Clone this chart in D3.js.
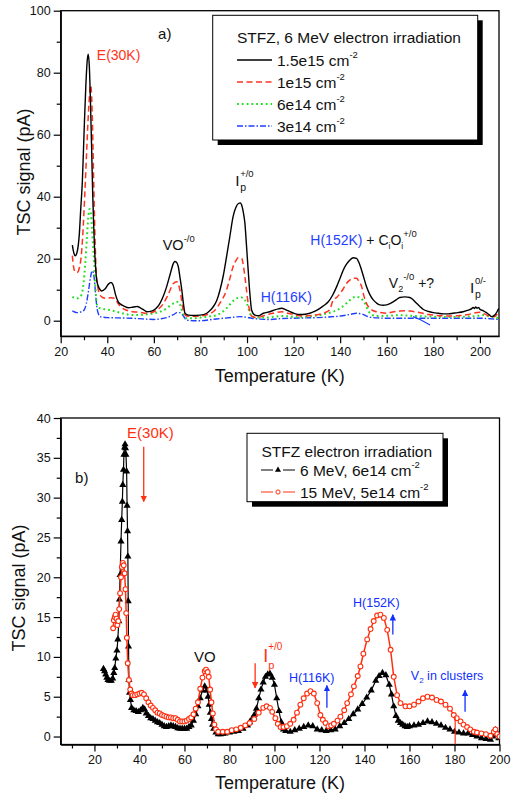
<!DOCTYPE html>
<html><head><meta charset="utf-8">
<script src="https://cdn.jsdelivr.net/npm/d3@7"></script>
<style>
body{margin:0;background:#fff}
svg text{font-family:"Liberation Sans",Arial,Helvetica,sans-serif}
</style></head>
<body><svg id="c" width="517" height="799"></svg>
<script>
// ---------------- DATA: panel a) ----------------
const xTicksTop = [20,40,60,80,100,120,140,160,180,200];
const yTicksTop = [0,20,40,60,80,100];
const legendTopTitle = "STFZ, 6 MeV electron irradiation";
const seriesTopNames = ["1.5e15","1e15","6e14","3e14"];

const black15e15 = [[25,24.4],[25.6,22],[26.2,20.9],[27,22],[28,28],[28.6,36],[29.3,45],[30,60],[30.8,76],[31.4,84],[31.8,86],[32.3,82],[32.8,70],[33.3,55],[33.7,42],[34.1,32],[34.5,24],[35,17],[35.5,13],[36.5,10.5],[37.6,9.6],[39,10.2],[40.5,11.8],[41.6,12.3],[42.5,11.5],[43.5,8.5],[44.7,6.1],[46,5.2],[47.5,4.6],[49,4.2],[50.5,4.3],[52,4.5],[53,4.6],[54,4.2],[55.5,3.6],[57,2.9],[58.5,3.0],[60,3.4],[61.5,4.4],[62.6,5.6],[64,7.8],[65.5,11],[67,15],[68.4,18.5],[69,19.1],[69.8,18.8],[70.5,17.4],[71.3,13.5],[72,9.9],[72.7,5.5],[73.4,2.4],[74.8,1.8],[77,1.7],[79.8,1.8],[82.7,2.4],[84,3.2],[85.5,4.5],[87,6.5],[88.4,9.9],[89.8,14.5],[91.2,20.6],[92.6,27],[94,33.5],[95.2,36.5],[96.3,37.8],[97.2,38],[97.7,37.3],[98.4,35],[99.1,31.4],[99.8,24],[100.5,16.3],[101.2,9],[102,3.4],[103.4,1.8],[105,1.6],[107,2.4],[109.8,2.9],[112,3.5],[113.4,3.8],[114.9,4.0],[116.5,3.6],[118.4,2.9],[120.5,2.3],[122.7,2.0],[125,2.1],[127,2.4],[129,3.0],[131.3,4.0],[133,4.9],[134.9,6.1],[136.8,8.3],[138.5,11],[140,13.8],[141.3,16.3],[142.8,18.3],[144.2,19.6],[145.6,20.3],[147,20.1],[148.1,18.7],[149.2,16.3],[150.3,13.5],[151.3,11],[152.7,8.5],[154.2,6.7],[155.6,5.7],[157,5.1],[158.5,5.0],[159.9,5.1],[161.4,5.5],[162.8,6.1],[164.2,6.8],[165.6,7.5],[167.8,7.7],[169.9,7.5],[171.4,6.7],[172.8,5.6],[174.2,4.6],[175.6,3.7],[177.8,3.0],[180,2.6],[182,2.4],[184.2,2.2],[186.5,2.2],[188.5,2.4],[190.5,2.6],[192.8,2.9],[195,3.4],[196.5,3.9],[197.1,4.3],[197.6,3.9],[198.2,4.4],[198.8,4.0],[199.4,4.3],[200,3.7],[201.5,3.2],[202.8,2.6],[204,1.9],[205,1.3],[205.8,1.5],[206.4,1.8],[207.3,2.8],[208.1,4]];

const red1e15 = [[25,21],[25.5,17.5],[26,16],[27,15.5],[28,17],[28.7,20],[29.5,28],[30.3,40],[31,52],[31.7,64],[32.3,72],[32.9,76],[33.4,70],[33.9,55],[34.3,40],[34.8,25],[35.3,15],[36,10.5],[36.9,8.3],[38,7.5],[39.7,7.2],[41.5,7.4],[43.3,7.2],[44.4,5.8],[45.5,4.7],[47,3.8],[49,3.2],[51,2.9],[54,2.7],[57,2.4],[60,2.9],[62,3.8],[64,5.4],[66,8.2],[68.4,12],[69.8,12.6],[71.2,9.9],[72.6,3.4],[74,1.5],[77,1.4],[80,1.5],[83,2.0],[86,3.2],[88.5,5.8],[91.2,9.9],[92.6,13.5],[94,17.4],[95.2,19.3],[96.3,20.4],[97.7,20.1],[98.5,17.5],[99.1,14.2],[99.8,9.8],[100.5,5.6],[101.3,3.0],[102,1.5],[104,1.0],[106,1.3],[108,1.8],[111.3,2.4],[114.9,2.9],[118,2.3],[121,1.8],[125,1.5],[129,1.8],[133,2.5],[135.5,3.5],[137,6.7],[138.5,7.5],[140,8.8],[141.5,10.5],[142.7,12],[144,13],[145.6,13.7],[147,13.7],[148,12.8],[149.2,11],[150.2,8],[151.3,5.6],[152.7,4.0],[154.2,3.2],[157,2.7],[160,2.4],[162.5,2.8],[165.6,3.1],[168,3.2],[170,3.1],[172.8,2.8],[175.6,2.4],[178,2.0],[180,1.8],[184,1.6],[188.5,1.5],[192,1.7],[195,2.0],[197,2.4],[200,2.7],[202,2.2],[204,1.5],[206.4,1.3],[207.3,2.0],[208,2.9]];

const green6e14 = [[25,7.7],[26,7.4],[27,7.2],[28,7.5],[29,8.5],[29.8,12],[30.5,18],[31.2,26],[31.8,33],[32.4,36],[32.9,35],[33.4,30],[33.9,24],[34.4,18.5],[34.9,11],[35.4,6],[35.9,4.5],[36.9,4.0],[40,3.6],[44,2.9],[47,2.3],[51,1.8],[55,1.9],[60,2.4],[63,3.0],[65.5,4.0],[67,4.9],[69,5.8],[70.5,6.1],[71.3,5.0],[72,3.4],[73,1.8],[74,0.8],[77,0.8],[80,1.0],[84,1.4],[87,1.8],[89,2.6],[91.2,4.0],[93,5.5],[95.5,7.2],[97.7,7.5],[99,6.8],[99.9,5.6],[101,3.0],[102,1.3],[105,1.0],[108.4,1.0],[112,1.3],[115.6,1.5],[119,1.3],[122.7,1.1],[127,1.4],[131.3,1.8],[134,2.3],[137,2.9],[140,4.0],[142.7,5.6],[144.5,6.8],[145.6,7.5],[147,7.7],[148.5,7.5],[149.6,6.7],[150.6,5.6],[151.7,3.8],[152.8,2.4],[155.6,1.5],[160,1.6],[165.6,1.8],[170,1.6],[175,1.4],[180,1.3],[187,1.2],[194.3,1.3],[198,1.5],[201.4,1.8],[203.5,1.5],[205.6,1.3],[208,0.8]];

const blue3e14 = [[25,3.2],[26,2.8],[27,2.6],[28.5,2.8],[30,3.4],[31,5.5],[32,9.9],[32.8,14],[33.5,16.1],[34,15.5],[34.5,13],[35,8.5],[35.5,4.5],[36.2,2.2],[37,1.3],[40,1.0],[45,0.9],[50,0.8],[55,0.6],[60,0.4],[63,0.6],[66,1.1],[68.5,2.0],[70,2.6],[71,2.6],[72,2.2],[73,1.2],[74,0.2],[77,0.0],[80,0.0],[85,0.4],[90,0.8],[94,1.1],[97,1.3],[100,1.1],[102,0.8],[106,0.5],[110,0.4],[115,0.7],[120,0.8],[125,0.9],[130,1.0],[135,1.2],[140,1.5],[144,2.0],[147,2.4],[149.5,2.1],[152,1.3],[156,0.9],[160,0.8],[165,0.8],[170,0.8],[180,0.8],[190,0.8],[200,0.8],[205,0.6],[208,0.4]];
const blueTail = [[171.3,1.3],[174.5,0.3],[178.6,-1.4]];

// ---------------- DATA: panel b) ----------------
const xTicksBot = [20,40,60,80,100,120,140,160,180,200];
const yTicksBot = [0,5,10,15,20,25,30,35,40];
const legendBotTitle = "STFZ electron irradiation";
const seriesBotNames = ["6 MeV, 6e14 cm","15 MeV, 5e14 cm"];

const black6MeV = [[24,8.5],[24.5,8.2],[25,7.8],[25.5,7.4],[26,7.1],[26.7,7.0],[27.5,7.0],[28.1,7.3],[28.6,8.0],[29,8.6],[29.5,9.8],[30,10.8],[30.4,12.2],[30.8,14.5],[31.1,17.2],[31.4,20.3],[31.8,24.5],[32.1,27.2],[32.4,29.5],[32.6,31.6],[32.9,33.5],[33.1,35.4],[33.4,36.3],[33.6,36.7],[33.8,36.2],[34.0,35.4],[34.3,33.3],[34.5,29],[34.7,25.8],[34.85,22.6],[35.0,17],[35.15,11.3],[35.3,7.1],[35.6,5.5],[36.0,4.6],[36.5,3.6],[37.5,3.3],[38.5,3.2],[39.5,3.1],[40.5,3.3],[41.5,3.6],[42.3,3.4],[43,2.9],[44,2.6],[45,2.3],[46,2.2],[47,2.0],[48,1.8],[49,1.7],[50,1.5],[51,1.3],[52,1.2],[53,1.3],[54,1.4],[55,1.3],[56,1.2],[57,1.05],[58,1.0],[59,1.0],[60,1.0],[61,1.0],[62,1.2],[63,1.4],[64,2.0],[65,2.8],[66,3.8],[67,4.8],[68,5.8],[69,6.3],[70,5.8],[70.5,5.0],[71,4.0],[71.5,3.0],[72,2.2],[72.5,1.5],[73,1.0],[74,0.5],[75,0.3],[76,0.3],[77,0.35],[78,0.4],[80,0.5],[82,0.6],[84,0.7],[86,1.0],[88,1.4],[89,1.8],[90,2.2],[91,2.7],[92,3.5],[93,4.8],[94,5.9],[95,6.8],[96,7.5],[97,7.8],[98,7.9],[99,7.4],[100,6.5],[101,4.8],[102,3.2],[103,1.8],[104,0.9],[105,0.7],[107,0.6],[109,0.8],[111,1.0],[113,1.2],[115,1.4],[117,1.3],[119,0.9],[121,0.8],[123,0.7],[125,0.8],[127,0.9],[129,1.3],[131,1.7],[133,2.2],[135,2.8],[137,3.4],[139,4.1],[141,4.9],[143,5.8],[145,7.0],[146.5,7.6],[148,8.0],[149.5,7.7],[151,6.5],[152,5.3],[153,3.8],[154,2.6],[155,2.0],[156,1.7],[157,1.5],[158,1.3],[159,1.2],[160,1.3],[162,1.4],[164,1.5],[166,1.7],[168,1.9],[170,1.8],[172,1.6],[174,1.4],[176,1.1],[178,0.9],[180,0.6],[182,0.5],[184,0.4],[186,0.4],[188,0.2],[190,0.0],[192,-0.2],[194,-0.3],[196,-0.4],[197,0.0],[198.2,0.8],[199,0.2],[199.7,-0.2]];

const red15MeV = [[28.3,13.6],[28.6,14.6],[29,15.0],[29.4,15.3],[29.8,14.8],[30.2,14.0],[30.6,14.5],[31,16],[31.4,18],[31.8,20],[32.2,21.3],[32.6,21.8],[33,21.5],[33.4,20.5],[33.8,18.5],[34.1,15.5],[34.4,12.4],[34.8,9.2],[35.3,7.1],[35.9,5.9],[36.5,5.4],[37,5.2],[38,5.2],[39,5.3],[40,5.4],[41,5.5],[42,5.3],[43,4.8],[44,4.3],[45,3.9],[46,3.6],[47,3.3],[48,3.0],[49,2.9],[50,2.7],[51,2.6],[52,2.5],[53,2.4],[54,2.4],[55,2.3],[56,2.3],[57,2.1],[58,1.9],[59,1.9],[60,1.9],[61,2.0],[62,2.2],[63,2.4],[64,2.8],[65,3.5],[66,4.3],[67,6.0],[68,7.4],[69,8.2],[69.6,8.4],[70.3,8.1],[70.8,7.5],[71.4,5.9],[72,4.3],[72.6,2.9],[73.3,1.5],[74,0.9],[75,0.6],[77,0.6],[79,0.6],[81,0.8],[83,0.9],[85,1.1],[87,1.4],[89,1.7],[91,2.2],[93,3.0],[95,3.6],[96.5,3.8],[98,3.6],[99,3.1],[100.4,2.3],[101.5,1.6],[102.7,1.2],[104,1.2],[105.5,1.3],[107,1.6],[108.5,2.1],[110,3.0],[111.5,4.0],[113,4.8],[114.5,5.4],[116,5.7],[117.5,5.4],[119,4.2],[120.4,2.7],[121.5,2.1],[122.7,1.7],[124,1.3],[125.2,1.4],[126.4,1.6],[128,2.0],[129.3,2.5],[131,3.3],[132.3,4.2],[134,5.3],[135.3,6.3],[137,7.6],[138.2,8.8],[139.5,10.4],[141.2,12.2],[142.7,13.5],[144.1,14.5],[145.6,15.2],[147.1,15.3],[148.6,14.9],[150.1,13.4],[151.6,10.9],[153,7.5],[154.5,5.2],[156,4.2],[158.2,3.8],[160,3.8],[162,4.0],[164,4.4],[166,4.8],[168,5.0],[170,4.9],[172,4.6],[174,4.4],[176,4.0],[178,3.5],[179.7,2.7],[181,2.3],[182.7,1.9],[184,1.5],[185.6,1.2],[187,0.9],[188.6,0.6],[190,0.5],[192,0.4],[194,0.3],[196,0.1],[197.5,0.6],[198.2,0.9],[199,0.3],[200,0]];
const redDrop = [[180.3,2.5],[180.3,-1]];

// ---------------- DRAWING ----------------
const svg = d3.select("#c");
const FONT = "'Liberation Sans',Arial,Helvetica,sans-serif";

function panel(opt){
  const g = svg.append("g");
  const x = d3.scaleLinear(opt.xd, opt.xr);
  const y = d3.scaleLinear(opt.yd, opt.yr);
  const id = opt.id;
  g.append("clipPath").attr("id",id).append("rect")
    .attr("x",opt.xr[0]).attr("y",opt.yr[1]).attr("width",opt.xr[1]-opt.xr[0]).attr("height",opt.yr[0]-opt.yr[1]);
  g.append("rect").attr("x",opt.xr[0]).attr("y",opt.yr[1]).attr("width",opt.xr[1]-opt.xr[0]).attr("height",opt.yr[0]-opt.yr[1])
    .attr("fill","none").attr("stroke","#000").attr("stroke-width",1.3);
  g.append("g").attr("transform",`translate(0,${opt.yr[0]})`)
    .call(d3.axisBottom(x).tickValues(opt.xt).tickSize(7).tickSizeOuter(0).tickPadding(4));
  g.append("g").attr("transform",`translate(0,${opt.yr[0]})`)
    .call(d3.axisBottom(x).tickValues(opt.xm).tickSize(4).tickSizeOuter(0).tickFormat(""))
    .select(".domain").remove();
  g.append("g").attr("transform",`translate(${opt.xr[0]},0)`)
    .call(d3.axisLeft(y).tickValues(opt.yt).tickSize(7).tickSizeOuter(0).tickPadding(3));
  g.append("g").attr("transform",`translate(${opt.xr[0]},0)`)
    .call(d3.axisLeft(y).tickValues(opt.ym).tickSize(4).tickSizeOuter(0).tickFormat(""))
    .select(".domain").remove();
  g.selectAll(".tick line").attr("stroke-width",1.2);
  g.selectAll(".domain").attr("stroke-width",1.3);
  g.selectAll(".tick text").attr("font-size",12.5).attr("font-family",FONT).attr("fill","#111");
  g.append("text").attr("x",(opt.xr[0]+opt.xr[1])/2).attr("y",opt.xtY).attr("text-anchor","middle")
    .attr("font-size",18).attr("fill","#111").text("Temperature (K)");
  g.append("text").attr("transform",`translate(${opt.ytX},${opt.ytY}) rotate(-90)`).attr("text-anchor","middle")
    .attr("font-size",18).attr("fill","#111").text("TSC signal (pA)");
  const plot = g.append("g").attr("clip-path",`url(#${id})`);
  return {g, x, y, plot};
}

// ---- panel a
const A = panel({id:"ca", xd:[20,208.2], xr:[60.7,499], yd:[-5,100], yr:[336.2,10.7],
  xt:xTicksTop, xm:d3.range(30,210,20), yt:yTicksTop, ym:d3.range(10,100,20),
  xtY:382, ytX:30, ytY:172});
const lineA = d3.line().x(d=>A.x(d[0])).y(d=>A.y(d[1])).curve(d3.curveMonotoneX);
const stylesA = [
  {data:blue3e14, c:"#1f3fff", w:1.4, dash:"6,2,1.5,2"},
  {data:green6e14, c:"#22dd22", w:2, dash:"1.8,3"},
  {data:red1e15, c:"#ff3320", w:1.5, dash:"6,3.5"},
  {data:black15e15, c:"#000", w:1.4, dash:null}
];
stylesA.forEach(s=>{
  A.plot.append("path").attr("d",lineA(s.data)).attr("fill","none").attr("stroke",s.c)
    .attr("stroke-width",s.w).attr("stroke-dasharray",s.dash);
});
A.plot.append("path").attr("d",d3.line().x(d=>A.x(d[0])).y(d=>A.y(d[1]))(blueTail))
  .attr("fill","none").attr("stroke","#1f3fff").attr("stroke-width",1.2);

// legend a
const LA = A.g.append("g");
LA.append("rect").attr("x",217.7).attr("y",20.3).attr("width",265).attr("height",124.7).attr("fill","#000");
LA.append("rect").attr("x",212.7).attr("y",15.3).attr("width",265).attr("height",124.7).attr("fill","#fff").attr("stroke","#000").attr("stroke-width",1);
LA.append("text").attr("x",237).attr("y",43).attr("font-size",15.5).attr("fill","#111").text(legendTopTitle);
const legRowsA = [stylesA[3],stylesA[2],stylesA[1],stylesA[0]];
legRowsA.forEach((s,i)=>{
  const yy = 60 + i*22;
  LA.append("line").attr("x1",237).attr("x2",272).attr("y1",yy).attr("y2",yy).attr("stroke",s.c)
    .attr("stroke-width",s.w).attr("stroke-dasharray",s.dash);
  const t = LA.append("text").attr("x",277).attr("y",yy+6).attr("font-size",15.5).attr("fill","#111");
  t.append("tspan").text(seriesTopNames[i]+" cm");
  t.append("tspan").attr("font-size",9.5).attr("dy",-8).text("-2");
});

function ann(g, px, py, parts){
  const t = g.append("text").attr("x",px).attr("y",py);
  parts.forEach(p=>{
    const ts = t.append("tspan").text(p.t).attr("font-size",p.s||14).attr("fill",p.c||"#111");
    if(p.x!==undefined) ts.attr("x",px+p.x);
    if(p.y!==undefined) ts.attr("y",py+p.y);
  });
  return t;
}
ann(A.g, A.x(61.8), A.y(91), [{t:"a)",s:15}]);
ann(A.g, A.x(35.5), A.y(84.1), [{t:"E(30K)",c:"#ff3320",s:14}]);
ann(A.g, A.x(63.8), A.y(22.8), [{t:"VO",s:14.5},{t:"-/0",s:9.5,y:-8}]);
ann(A.g, A.x(94.9), A.y(43.5), [{t:"I",s:15.5},{t:"p",s:10.5,x:5,y:5},{t:"+/0",s:9.5,x:5,y:-9}]);
ann(A.g, A.x(127.2), A.y(24.4), [{t:"H(152K)",c:"#1f3fff",s:14},{t:" + C",s:14},{t:"i",s:8.5,y:4},{t:"O",s:14,y:0},{t:"i",s:8.5,y:4},{t:"+/0",s:9.5,y:-8}]);
ann(A.g, A.x(105.9), A.y(6.1), [{t:"H(116K)",c:"#1f3fff",s:14}]);
ann(A.g, A.x(160.9), A.y(10.5), [{t:"V",s:14},{t:"2",s:9,y:4},{t:"-/0",s:9.5,y:-8},{t:" +?",s:14,y:0}]);
ann(A.g, A.x(195.7), A.y(8.9), [{t:"I",s:15.5},{t:"p",s:10.5,x:5,y:5},{t:"0/-",s:9.5,x:5,y:-9}]);

// ---- panel b
const B = panel({id:"cb", xd:[5,200], xr:[60.7,499.5], yd:[-1,40], yr:[744.5,418],
  xt:xTicksBot, xm:d3.range(10,200,20), yt:yTicksBot, ym:d3.range(2.5,40,5),
  xtY:789, ytX:25, ytY:588});
const lineB = d3.line().x(d=>B.x(d[0])).y(d=>B.y(d[1]));
const triSym = d3.symbol().type(d3.symbolTriangle).size(22);
B.plot.append("path").attr("d",lineB(black6MeV)).attr("fill","none").attr("stroke","#000").attr("stroke-width",1.2);
B.plot.selectAll(".tri").data(black6MeV).join("path").attr("class","tri")
  .attr("transform",d=>`translate(${B.x(d[0])},${B.y(d[1])})`).attr("d",triSym()).attr("fill","#000");
B.plot.append("path").attr("d",lineB(red15MeV)).attr("fill","none").attr("stroke","#ff3010").attr("stroke-width",1.5);
B.plot.selectAll(".cir").data(red15MeV).join("circle").attr("class","cir")
  .attr("cx",d=>B.x(d[0])).attr("cy",d=>B.y(d[1])).attr("r",2.4)
  .attr("fill","#fff").attr("stroke","#ff3010").attr("stroke-width",1.1);
B.plot.append("path").attr("d",lineB(redDrop)).attr("stroke","#ff3010").attr("stroke-width",1.2);

// legend b
const LB = B.g.append("g");
LB.append("rect").attr("x",252).attr("y",438.3).attr("width",196).attr("height",68.4).attr("fill","#000");
LB.append("rect").attr("x",247).attr("y",433.3).attr("width",196).attr("height",68.4).attr("fill","#fff").attr("stroke","#000").attr("stroke-width",1);
LB.append("text").attr("x",261.5).attr("y",457).attr("font-size",15.5).attr("fill","#111").text(legendBotTitle);
const triLeg = d3.symbol().type(d3.symbolTriangle).size(16);
[{c:"#000",m:"tri"},{c:"#ff3010",m:"cir"}].forEach((s,i)=>{
  const yy = 470 + i*22;
  LB.append("line").attr("x1",261).attr("x2",273).attr("y1",yy).attr("y2",yy).attr("stroke",s.c).attr("stroke-width",1);
  LB.append("line").attr("x1",283).attr("x2",295).attr("y1",yy).attr("y2",yy).attr("stroke",s.c).attr("stroke-width",1);
  if(s.m==="tri") LB.append("path").attr("transform",`translate(278,${yy})`).attr("d",triLeg()).attr("fill","#000");
  else LB.append("circle").attr("cx",278).attr("cy",yy).attr("r",2.1).attr("fill","#fff").attr("stroke",s.c);
  const t = LB.append("text").attr("x",300).attr("y",yy+6).attr("font-size",15.5).attr("fill","#111");
  t.append("tspan").text(seriesBotNames[i]);
  t.append("tspan").attr("font-size",9.5).attr("dy",-8).text("-2");
});

// annotations b
const defs = svg.append("defs");
[["ahR","#ff3010"],["ahB","#1030ff"]].forEach(([id,c])=>{
  defs.append("marker").attr("id",id).attr("viewBox","0 0 10 10").attr("refX",9).attr("refY",5)
    .attr("markerWidth",5).attr("markerHeight",6).attr("orient","auto-start-reverse")
    .append("path").attr("d","M0,0 L10,5 L0,10 z").attr("fill",c);
});
function arrow(g,x,y,k,v0,v1,c,m){
  g.append("line").attr("x1",x(k)).attr("x2",x(k)).attr("y1",y(v0)).attr("y2",y(v1))
    .attr("stroke",c).attr("stroke-width",1.3).attr("marker-end",`url(#${m})`);
}
ann(B.g, B.x(11.4), B.y(31.8), [{t:"b)",s:15}]);
ann(B.g, B.x(34.5), B.y(37.5), [{t:"E(30K)",c:"#ff3010",s:15}]);
arrow(B.g,B.x,B.y,41.9,36.4,29.5,"#ff3010","ahR");
ann(B.g, B.x(64.2), B.y(9.3), [{t:"VO",s:15}]);
arrow(B.g,B.x,B.y,91.4,9.2,6.1,"#ff3010","ahR");
ann(B.g, B.x(95), B.y(9.4), [{t:"I",s:18,c:"#ff3010"},{t:"p",s:11,c:"#ff3010",x:5,y:7},{t:"+/0",s:10,c:"#ff3010",x:5,y:-12}]);
ann(B.g, B.x(106.4), B.y(6.9), [{t:"H(116K)",c:"#1030ff",s:12.5}]);
arrow(B.g,B.x,B.y,123.3,3.6,6.4,"#1030ff","ahB");
ann(B.g, B.x(134.9), B.y(16.3), [{t:"H(152K)",c:"#1030ff",s:12.5}]);
arrow(B.g,B.x,B.y,152.6,12.8,15.3,"#1030ff","ahB");
ann(B.g, B.x(160.6), B.y(7.1), [{t:"V",c:"#1030ff",s:12.5},{t:"2",c:"#1030ff",s:8,y:3},{t:" in clusters",c:"#1030ff",s:12.5,y:0}]);
arrow(B.g,B.x,B.y,184.7,3.1,5.8,"#1030ff","ahB");
</script></body></html>
